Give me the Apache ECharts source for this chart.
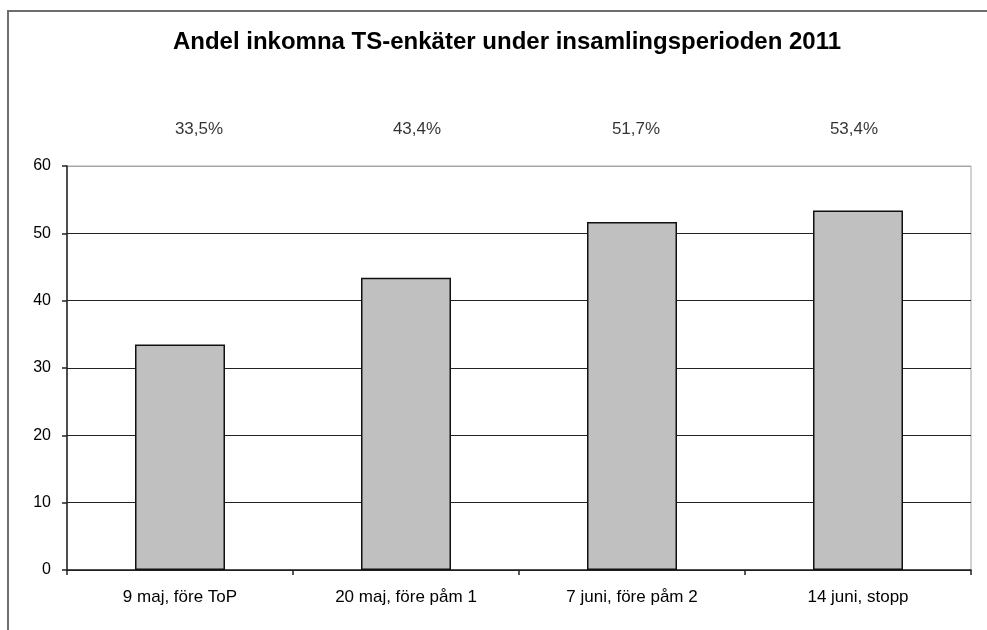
<!DOCTYPE html>
<html>
<head>
<meta charset="utf-8">
<script src="https://cdn.jsdelivr.net/npm/echarts@6/dist/echarts.min.js"></script>
<style>
  html, body { margin: 0; padding: 0; background: #fff; }
  #chart { width: 987px; height: 630px; }
</style>
</head>
<body>
<div id="chart"></div>
<script>
const categories = ['9 maj, före ToP', '20 maj, före påm 1', '7 juni, före påm 2', '14 juni, stopp']
const shares = [33.5, 43.4, 51.7, 53.4]
const shareLabels = ['33,5%', '43,4%', '51,7%', '53,4%']
const yTicks = [0, 10, 20, 30, 40, 50, 60]

// where the percentage row sits (value units above the plot) and its small x shifts
const labelRowValue = 65.4
const labelShift = [19, 11, 4, -4]

const chart = echarts.init(document.getElementById('chart'))
const font = 'Liberation Sans, Arial, sans-serif'

chart.setOption({
    animation: false,
    title: {
        text: 'Andel inkomna TS-enkäter under insamlingsperioden 2011',
        left: 502,
        textAlign: 'center',
        top: 25,
        textStyle: { fontFamily: font, fontSize: 24, fontWeight: 'bold', color: '#000' },
    },
    graphic: [{
        type: 'polyline',
        shape: { points: [[8, 640], [8, 11], [1000, 11]] },
        style: { stroke: '#6e6e6e', lineWidth: 2, fill: null },
    }],
    grid: {
        left: 67, right: 16, top: 166, bottom: 60,
        show: true, borderColor: '#a6a6a6', borderWidth: 1,
    },
    xAxis: {
        type: 'category',
        data: categories,
        axisLine: { lineStyle: { color: '#222', width: 1.5 } },
        axisTick: { show: true, length: 5, alignWithLabel: false, lineStyle: { color: '#222', width: 1.5 } },
        axisLabel: { fontFamily: font, fontSize: 17, color: '#000', margin: 19 },
    },
    yAxis: {
        type: 'value',
        min: yTicks[0],
        max: yTicks[yTicks.length - 1],
        interval: 10,
        axisLine: { show: true, lineStyle: { color: '#222', width: 1.5 } },
        axisTick: { show: true, length: 5, lineStyle: { color: '#222', width: 1.5 } },
        axisLabel: { fontFamily: font, fontSize: 16, color: '#000', margin: 16 },
        splitLine: { lineStyle: { color: ['#222', '#222', '#222', '#222', '#222', '#222', '#a6a6a6'], width: 1.2 } },
    },
    series: [
        {
            type: 'bar',
            data: shares,
            barWidth: 90,
            itemStyle: { color: '#c0c0c0', borderColor: '#111', borderWidth: 1.5 },
        },
        {
            type: 'scatter',
            clip: false,
            symbolSize: 0,
            silent: true,
            data: shareLabels.map((txt, i) => ({
                value: [i, labelRowValue],
                label: { formatter: txt, offset: [labelShift[i], 0] },
            })),
            label: {
                show: true,
                position: 'inside',
                fontFamily: font,
                fontSize: 17,
                color: '#000',
            },
        },
    ],
})
</script>
</body>
</html>
